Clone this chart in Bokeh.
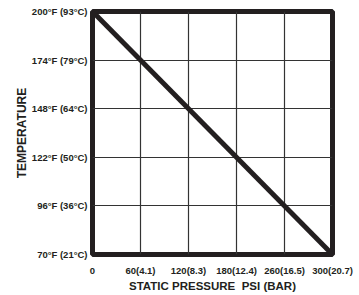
from bokeh.plotting import figure
from bokeh.models import Range1d, FixedTicker
from bokeh.embed import file_html
from bokeh.resources import INLINE

# Data
pressure_psi = [0, 300]
temperature_f = [200, 70]
x_ticks = [0, 60, 120, 180, 240, 300]
x_tick_labels = ["0", "60(4.1)", "120(8.3)", "180(12.4)", "260(16.5)", "300(20.7)"]
y_ticks = [70, 96, 122, 148, 174, 200]
y_tick_labels = ["70°F (21°C)", "96°F (36°C)", "122°F (50°C)", "148°F (64°C)", "174°F (79°C)", "200°F (93°C)"]

FONT = "Liberation Sans"
DARK = "#231f20"

p = figure(width=359, height=295, output_backend="svg", toolbar_location=None,
           x_range=Range1d(0, 300), y_range=Range1d(70, 200),
           min_border_left=92, min_border_right=27, min_border_top=11, min_border_bottom=41)

p.outline_line_color = DARK
p.outline_line_width = 5

for ax in (p.xaxis[0], p.yaxis[0]):
    ax.axis_line_color = None
    ax.major_tick_line_color = None
    ax.minor_tick_line_color = None
    ax.major_tick_out = 0
    ax.major_tick_in = 0
    ax.minor_tick_out = 0
    ax.minor_tick_in = 0
    ax.major_label_text_font = FONT
    ax.major_label_text_font_style = "bold"
    ax.major_label_text_font_size = "9.5px"
    ax.major_label_text_color = DARK
    ax.axis_label_text_font = FONT
    ax.axis_label_text_font_style = "bold"
    ax.axis_label_text_color = DARK

p.xaxis.axis_label_text_font_size = "11.5px"
p.yaxis.axis_label_text_font_size = "12px"
p.xaxis.ticker = FixedTicker(ticks=x_ticks)
p.yaxis.ticker = FixedTicker(ticks=y_ticks)
p.xaxis.major_label_overrides = {t: l for t, l in zip(x_ticks, x_tick_labels)}
p.yaxis.major_label_overrides = {t: l for t, l in zip(y_ticks, y_tick_labels)}
p.xaxis.major_label_standoff = 10
p.yaxis.major_label_standoff = 5
p.xaxis.axis_label = "STATIC PRESSURE\u00a0 PSI (BAR)"
p.yaxis.axis_label = "TEMPERATURE"
p.xaxis.axis_label_standoff = 1
p.yaxis.axis_label_standoff = 0

p.xgrid.ticker = FixedTicker(ticks=x_ticks)
p.ygrid.ticker = FixedTicker(ticks=y_ticks)
p.grid.grid_line_color = "#333333"
p.grid.grid_line_width = 1.2

p.line(pressure_psi, temperature_f, line_color=DARK, line_width=5)

open("out.html", "w").write(file_html(p, INLINE))
